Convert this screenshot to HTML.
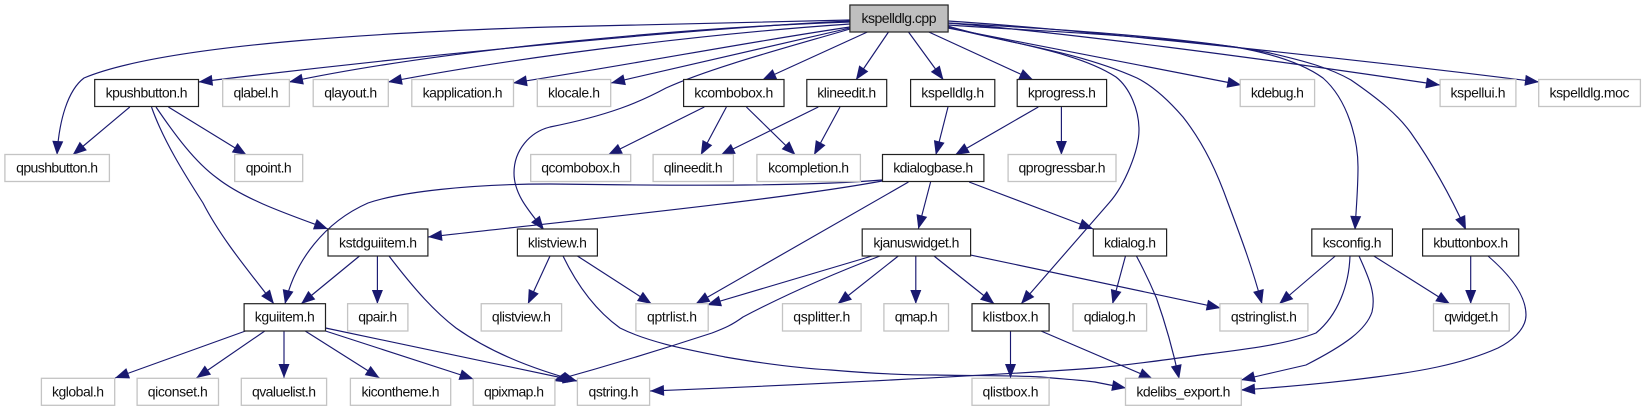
<!DOCTYPE html>
<html><head><meta charset="utf-8"><style>
html,body{margin:0;padding:0;background:#fff}
svg{display:block}
text{font-family:"Liberation Sans",Arial,sans-serif;font-size:14px;fill:#111;text-anchor:middle}
.b rect{fill:#fff;stroke:#222;stroke-width:1.2}
.g rect{fill:#fff;stroke:#c4c4c4;stroke-width:1.3}
.e path{fill:none;stroke:#191970;stroke-width:1.15;marker-end:url(#a)}
</style></head><body>
<svg xmlns="http://www.w3.org/2000/svg" width="1645" height="411" viewBox="0 0 1645 411">
<defs><marker id="a" markerUnits="userSpaceOnUse" markerWidth="16" markerHeight="12" refX="15" refY="6" orient="auto" viewBox="0 0 16 12"><path d="M1,.5 L15,6 L1,11.5 Z" fill="#191970"/></marker></defs>
<g class="e">
<path d="M850,20 C750,22 650,24 550,27 C420,31 170,42 84,78 C68,90 59,120 57,155"/>
<path d="M850,21 C700,28 420,55 198.5,82"/>
<path d="M850,22 C700,27 450,48 289,82"/>
<path d="M850,24 C730,32 540,53 388,82"/>
<path d="M850,27 C760,40 640,63 513,83"/>
<path d="M850,28 C790,42 700,62 611,83"/>
<path d="M850,29 C785,48 710,68 666,88 C640,102 610,115 550,127 C530,132 514,150 514,173 C514,195 530,212 544,230"/>
<path d="M867.4,32 L762.2,80"/>
<path d="M888.5,32 L855.9,80"/>
<path d="M908.5,32 L943.5,80"/>
<path d="M928.8,32 L1033.3,80"/>
<path d="M948,28 L1241.3,85"/>
<path d="M948,23 C1060,32 1260,58 1440,85"/>
<path d="M948,21 C1060,28 1320,55 1539,82"/>
<path d="M948,25 C1000,29 1150,35 1235,47 C1275,54 1305,65 1323,78 C1348,100 1358,140 1358,167 C1358,190 1356,210 1355,230"/>
<path d="M948,23 C1000,26 1180,35 1270,53 C1305,61 1330,68 1351,80 C1380,100 1398,115 1411,133 C1430,160 1450,195 1466,230"/>
<path d="M948,27 C1000,42 1075,50 1137,78 C1155,87 1170,102 1183,117 C1205,145 1218,175 1228,203 C1242,240 1253,270 1262,304"/>
<path d="M948,26 C1000,42 1075,50 1116,77 C1130,88 1139,110 1139,130 C1139,150 1125,185 1109,203 L1021,304"/>
<path d="M129.8,107 L72.6,155"/>
<path d="M168.4,107 L246.6,155"/>
<path d="M151.5,107 C163,140 185,175 203,203 C222,240 252,275 274,304"/>
<path d="M156,107 C175,135 195,162 217,178 C245,200 290,215 328,229"/>
<path d="M704.3,107 L607.9,155"/>
<path d="M726.4,107 L700.8,155"/>
<path d="M746.4,107 L795.5,155"/>
<path d="M818.3,107 L720.8,155"/>
<path d="M840,107 L814,155"/>
<path d="M948,107 L935.8,155"/>
<path d="M1038.3,107 L955,155"/>
<path d="M1061.4,107 L1061.4,155"/>
<path d="M882,180 C810,186 700,186 550,184 C470,184 400,192 368,203 C325,222 295,260 285,304"/>
<path d="M882,181 C780,200 560,222 428,237"/>
<path d="M930.6,182 L918.3,229"/>
<path d="M969.1,182 L1093.3,229"/>
<path d="M908.5,182 L695.6,304"/>
<path d="M359.5,256 L301,304"/>
<path d="M377.4,256 L377.4,304"/>
<path d="M389,256 C415,290 435,312 456,328 C490,352 530,368 577,381"/>
<path d="M325.5,328 L577,381"/>
<path d="M325.5,331 L473.5,379"/>
<path d="M245.5,331 L115,378"/>
<path d="M264.8,331 L196.4,378"/>
<path d="M284,331 L284,378"/>
<path d="M305.2,331 L379.5,378"/>
<path d="M550,256 L527.9,304"/>
<path d="M577.4,256 L651.7,304"/>
<path d="M563,256 C577,285 595,310 620,328 C650,343 690,350 725,357 C760,363 795,368 831,370 C865,373 900,375 936,375 C975,376 1010,375 1041,377 C1062,379 1080,380 1095,382 C1105,384 1115,386 1126,388"/>
<path d="M872,256 L707,305"/>
<path d="M898.3,256 L837.6,304"/>
<path d="M915.8,256 L915.8,304"/>
<path d="M934,256 L994.4,304"/>
<path d="M970.6,255 L1220.6,308"/>
<path d="M880,256 C830,275 785,295 743,317 C732,325 725,328 712,333 C660,350 600,368 553,381"/>
<path d="M1010.5,331 L1010.5,378"/>
<path d="M1041,331 L1152.9,379"/>
<path d="M1125.5,256 L1112.5,304"/>
<path d="M1136.4,256 C1145,272 1151,285 1156.4,298 C1166,325 1174,355 1179.2,379"/>
<path d="M1335.3,256 L1279.1,304"/>
<path d="M1350,256 C1349,285 1338,315 1316,333 C1285,345 1240,350 1200,355 C1165,360 1130,365 1095,368 C1000,375 800,385 650,391"/>
<path d="M1359,256 C1370,280 1376,295 1372,312 C1366,330 1345,345 1306,365 C1285,370 1262,375 1241,380"/>
<path d="M1373.8,256 L1450,304"/>
<path d="M1470.7,256 L1470.7,304"/>
<path d="M1488,256 C1510,275 1526,295 1526,315 C1526,330 1510,342 1498,348 C1460,365 1415,372 1376,377 C1330,383 1285,387 1241,390"/>
</g>
<rect x="849.9" y="5" width="98.2" height="27" fill="#bfbfbf" stroke="#222" stroke-width="1.2"/>
<text x="899" y="23" textLength="75">kspelldlg.cpp</text>
<g class="b">
<rect x="94.7" y="79.5" width="103.8" height="27"/><text x="146.6" y="97.3" textLength="82">kpushbutton.h</text>
<rect x="683.6" y="79.5" width="100.4" height="27"/><text x="733.8" y="97.3" textLength="79">kcombobox.h</text>
<rect x="806.8" y="79.5" width="79.9" height="27"/><text x="846.7" y="97.3" textLength="59">klineedit.h</text>
<rect x="910.6" y="79.5" width="84.2" height="27"/><text x="952.7" y="97.3" textLength="63">kspelldlg.h</text>
<rect x="1017.2" y="79.5" width="89.4" height="27"/><text x="1061.9" y="97.3" textLength="68">kprogress.h</text>
<rect x="882.5" y="154.5" width="101.4" height="27"/><text x="933.2" y="172.3" textLength="80">kdialogbase.h</text>
<rect x="328" y="229" width="99.9" height="27"/><text x="378" y="247.7" textLength="78">kstdguiitem.h</text>
<rect x="517.4" y="229" width="80" height="27"/><text x="557.4" y="247.7" textLength="59">klistview.h</text>
<rect x="862.2" y="229" width="108.4" height="27"/><text x="916.4" y="247.7" textLength="86">kjanuswidget.h</text>
<rect x="1093.3" y="229" width="73.3" height="27"/><text x="1130" y="247.7" textLength="52">kdialog.h</text>
<rect x="1311.8" y="229" width="80.6" height="27"/><text x="1352.1" y="247.7" textLength="59">ksconfig.h</text>
<rect x="1422.6" y="229" width="96.1" height="27"/><text x="1470.7" y="247.7" textLength="75">kbuttonbox.h</text>
<rect x="244.1" y="303.7" width="81.4" height="27.3"/><text x="284.8" y="321.7" textLength="60">kguiitem.h</text>
<rect x="972" y="303.7" width="77.1" height="27.3"/><text x="1010.5" y="321.7" textLength="56">klistbox.h</text>
</g>
<g class="g">
<rect x="222.7" y="79.5" width="66.7" height="27"/><text x="256" y="97.3" textLength="45">qlabel.h</text>
<rect x="313.2" y="79.5" width="75.1" height="27"/><text x="350.7" y="97.3" textLength="53">qlayout.h</text>
<rect x="411.8" y="79.5" width="101.7" height="27"/><text x="462.6" y="97.3" textLength="80">kapplication.h</text>
<rect x="537.3" y="79.5" width="73.4" height="27"/><text x="574" y="97.3" textLength="52">klocale.h</text>
<rect x="1240.2" y="79.5" width="74.4" height="27"/><text x="1277.4" y="97.3" textLength="53">kdebug.h</text>
<rect x="1440.1" y="79.5" width="75.8" height="27"/><text x="1478" y="97.3" textLength="55">kspellui.h</text>
<rect x="1538.7" y="79.5" width="101.7" height="27"/><text x="1589.5" y="97.3" textLength="80">kspelldlg.moc</text>
<rect x="4.9" y="154.5" width="104.5" height="27"/><text x="57.1" y="172.3" textLength="82">qpushbutton.h</text>
<rect x="234.7" y="154.5" width="68" height="27"/><text x="268.7" y="172.3" textLength="46">qpoint.h</text>
<rect x="530.7" y="154.5" width="100" height="27"/><text x="580.7" y="172.3" textLength="79">qcombobox.h</text>
<rect x="653.1" y="154.5" width="80.3" height="27"/><text x="693.2" y="172.3" textLength="59">qlineedit.h</text>
<rect x="756.9" y="154.5" width="103.5" height="27"/><text x="808.6" y="172.3" textLength="81">kcompletion.h</text>
<rect x="1008.1" y="154.5" width="107.9" height="27"/><text x="1062" y="172.3" textLength="87">qprogressbar.h</text>
<rect x="347.6" y="303.7" width="60.3" height="27.3"/><text x="377.7" y="321.7" textLength="39">qpair.h</text>
<rect x="481.2" y="303.7" width="80.4" height="27.3"/><text x="521.4" y="321.7" textLength="59">qlistview.h</text>
<rect x="635.9" y="303.7" width="72.3" height="27.3"/><text x="672" y="321.7" textLength="50">qptrlist.h</text>
<rect x="782.5" y="303.7" width="78.6" height="27.3"/><text x="821.8" y="321.7" textLength="57">qsplitter.h</text>
<rect x="883.9" y="303.7" width="64.6" height="27.3"/><text x="916.2" y="321.7" textLength="43">qmap.h</text>
<rect x="1073" y="303.7" width="73.6" height="27.3"/><text x="1109.8" y="321.7" textLength="52">qdialog.h</text>
<rect x="1219.9" y="303.7" width="88" height="27.3"/><text x="1263.9" y="321.7" textLength="66">qstringlist.h</text>
<rect x="1433.5" y="303.7" width="75.7" height="27.3"/><text x="1471.3" y="321.7" textLength="54">qwidget.h</text>
<rect x="41.4" y="378.3" width="73.3" height="27"/><text x="78" y="396.7" textLength="52">kglobal.h</text>
<rect x="137.1" y="378.3" width="81.4" height="27"/><text x="177.8" y="396.7" textLength="60">qiconset.h</text>
<rect x="241.3" y="378.3" width="85.3" height="27"/><text x="284" y="396.7" textLength="64">qvaluelist.h</text>
<rect x="350.4" y="378.3" width="100.3" height="27"/><text x="400.5" y="396.7" textLength="78">kicontheme.h</text>
<rect x="473.2" y="378.3" width="81.7" height="27"/><text x="514" y="396.7" textLength="60">qpixmap.h</text>
<rect x="577.4" y="378.3" width="72.2" height="27"/><text x="613.5" y="396.7" textLength="50">qstring.h</text>
<rect x="972" y="378.3" width="77.1" height="27"/><text x="1010.5" y="396.7" textLength="56">qlistbox.h</text>
<rect x="1125.5" y="378.3" width="115.8" height="27"/><text x="1183.4" y="396.7" textLength="94">kdelibs_export.h</text>
</g>
</svg>
</body></html>
